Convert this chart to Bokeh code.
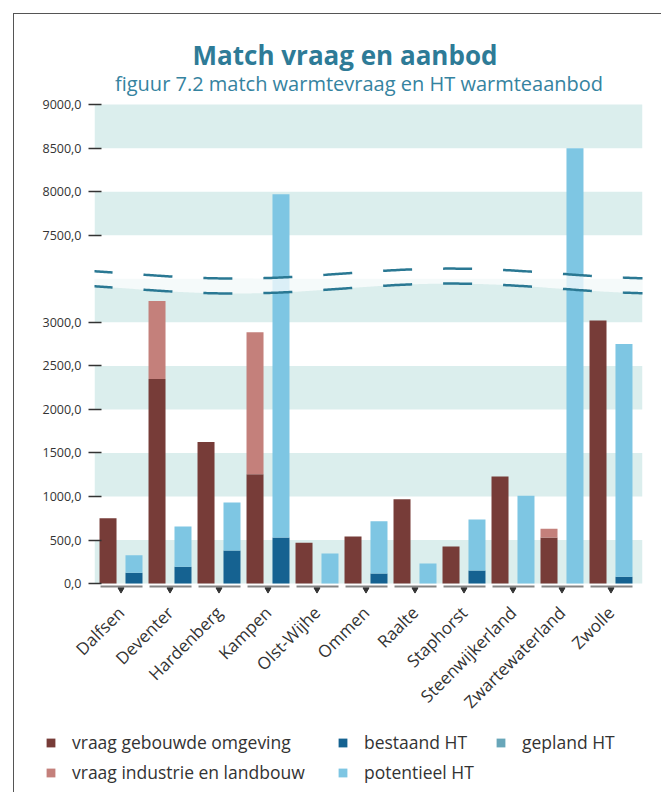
import numpy as np
from bokeh.plotting import figure
from bokeh.layouts import column, row
from bokeh.models import (ColumnDataSource, FixedTicker, BoxAnnotation, Label,
                          Legend, LegendItem, Range1d)
from bokeh.embed import file_html
from bokeh.resources import INLINE

# ---------------- data ----------------
gemeenten = ["Dalfsen", "Deventer", "Hardenberg", "Kampen", "Olst-Wijhe", "Ommen",
             "Raalte", "Staphorst", "Steenwijkerland", "Zwartewaterland", "Zwolle"]
vraag_gebouwde = [750, 2350, 1625, 1255, 470, 540, 970, 425, 1230, 530, 3020]
vraag_industrie = [0, 895, 0, 1630, 0, 0, 0, 0, 0, 100, 0]
bestaand_ht = [125, 195, 380, 530, 0, 115, 0, 150, 0, 0, 80]
gepland_ht = [0, 0, 0, 0, 0, 0, 0, 0, 0, 0, 0]
potentieel_ht = [200, 460, 550, 7440, 345, 600, 230, 585, 1010, 8500, 2670]

y_tick_values = [0, 500, 1000, 1500, 2000, 2500, 3000, 7500, 8000, 8500, 9000]
band_ranges = [(0, 500), (1000, 1500), (2000, 2500), (3000, 3500), (7500, 8000), (8500, 9000)]

# broken axis: values above the break are shifted down
BREAK_AT = 3500
BREAK_SHIFT = 3500


def brk(v):
    return v if v <= BREAK_AT else v - BREAK_SHIFT


# ---------------- colours / styles ----------------
C_GEB = "#773c38"
C_IND = "#c4807b"
C_BEST = "#156291"
C_GEPL = "#68a6b9"
C_POT = "#7ec6e3"
C_BAND = "#dbeeed"
C_TITLE = "#2e7b97"
C_TXT = "#333333"
FONT = "Open Sans"

# layout (pixels)
W = 647
H1 = 711
H2 = 67
PPU = 0.08709          # pixels per display unit
FRAME_H = 580
Y_BOTTOM = -125
Y_TOP = Y_BOTTOM + FRAME_H / PPU

n = len(gemeenten)
xs = np.arange(n)
BAR_W = 0.347
OFF = 0.265

p = figure(width=W, height=H1, output_backend="svg", toolbar_location=None,
           x_range=Range1d(-0.541, 10.643), y_range=Range1d(Y_BOTTOM, Y_TOP),
           min_border_left=80, min_border_right=19, min_border_top=0,
           min_border_bottom=H1 - FRAME_H, title=None)
p.outline_line_color = None
p.xgrid.visible = False
p.ygrid.visible = False
p.background_fill_color = "white"
p.border_fill_color = "white"

# bands
for lo, hi in band_ranges:
    p.add_layout(BoxAnnotation(bottom=brk(lo), top=brk(hi), fill_color=C_BAND,
                               fill_alpha=1, line_alpha=0, level="underlay"))


def stacked(series_list, xpos, colors):
    cum = np.zeros(n)
    rends = []
    for s, c in zip(series_list, colors):
        b = cum.copy()
        cum = cum + np.array(s, dtype=float)
        src = ColumnDataSource(dict(x=xpos, bottom=[brk(v) for v in b],
                                    top=[brk(v) for v in cum]))
        r = p.vbar(x="x", bottom="bottom", top="top", width=BAR_W, source=src,
                   fill_color=c, line_color=None)
        rends.append(r)
    return rends


stacked([vraag_gebouwde, vraag_industrie], xs - OFF, [C_GEB, C_IND])
stacked([bestaand_ht, gepland_ht, potentieel_ht], xs + OFF, [C_BEST, C_GEPL, C_POT])

# break mask and wavy dashed lines
wx = np.linspace(-0.6, 10.7, 300)
wave = np.cos(2 * np.pi * (wx - 2.337) / 8.78)
upper = 3560 - 57 * wave
lower = upper - 172
p.varea(x=wx, y1=lower, y2=upper, fill_color="white", fill_alpha=0.72)
for yy in (upper, lower):
    p.line(wx, yy, line_color="#2a7893", line_width=2.5, line_dash="29 31",
           line_dash_offset=8)

# group baselines and markers
p.segment(x0=xs - 0.418, x1=xs + 0.439, y0=[-34] * n, y1=[-34] * n,
          line_color="#858585", line_width=2)
p.scatter(x=xs, y=[-69] * n, marker="inverted_triangle", size=6,
          fill_color="#333333", line_color="#333333")

# axes
p.yaxis.ticker = FixedTicker(ticks=[brk(v) for v in y_tick_values])
p.yaxis.major_label_overrides = {brk(v): f"{v:.1f}".replace(".", ",") for v in y_tick_values}
p.yaxis.axis_line_color = None
p.yaxis.minor_tick_line_color = None
p.yaxis.major_tick_out = 6
p.yaxis.major_tick_in = 7
p.yaxis.major_tick_line_color = C_TXT
p.yaxis.major_tick_line_width = 1.5
p.yaxis.major_label_standoff = 7
p.yaxis.major_label_text_font = FONT
p.yaxis.major_label_text_font_size = "12.5px"
p.yaxis.major_label_text_color = C_TXT

p.xaxis.ticker = FixedTicker(ticks=list(range(n)))
p.xaxis.major_label_overrides = {i: g for i, g in enumerate(gemeenten)}
p.xaxis.major_label_orientation = np.pi / 4
p.xaxis.axis_line_color = None
p.xaxis.major_tick_line_color = None
p.xaxis.minor_tick_line_color = None
p.xaxis.major_label_standoff = 9
p.xaxis.major_label_text_font = FONT
p.xaxis.major_label_text_font_size = "17px"
p.xaxis.major_label_text_color = C_TXT

# titles (inside the extended frame)
p.add_layout(Label(x=250.5, y=539.7, x_units="screen", y_units="screen",
                   text="Match vraag en aanbod", text_font=FONT, text_font_size="26px",
                   text_font_style="bold", text_color=C_TITLE, text_align="center",
                   text_baseline="alphabetic"))
p.add_layout(Label(x=264.5, y=510.7, x_units="screen", y_units="screen",
                   text="figuur 7.2 match warmtevraag en HT warmteaanbod", text_font=FONT,
                   text_font_size="20px", text_color="#3583a0", text_align="center",
                   text_baseline="alphabetic"))

# ---------------- legend figure ----------------
p2 = figure(width=W, height=H2, output_backend="svg", toolbar_location=None,
            x_range=Range1d(0, 1), y_range=Range1d(0, 1), min_border=0,
            min_border_left=0, min_border_right=0, min_border_top=0, min_border_bottom=0,
            x_axis_location=None, y_axis_location=None, title=None)
p2.grid.visible = False
p2.outline_line_color = None
p2.border_fill_color = "white"

series_names = ["vraag gebouwde omgeving", "vraag industrie en landbouw",
                "bestaand HT", "potentieel HT", "gepland HT"]
series_colors = [C_GEB, C_IND, C_BEST, C_POT, C_GEPL]
swatch = {}
for name, c in zip(series_names, series_colors):
    # legend swatch only: a zero-height bar outside the (empty) view
    swatch[name] = p2.vbar(x=[-5], top=[0], width=0.1, fill_color=c, line_color=None)


def make_legend(names, loc):
    lg = Legend(items=[LegendItem(label=nm, renderers=[swatch[nm]]) for nm in names],
                location=loc, orientation="vertical",
                glyph_width=11, glyph_height=11, label_standoff=16, spacing=6,
                label_height=20, padding=0, margin=0,
                label_text_font=FONT, label_text_font_size="17.5px",
                label_text_color=C_TXT, background_fill_alpha=0,
                border_line_alpha=0)
    p2.add_layout(lg, "center")


make_legend(series_names[0:2], (31, 8))
make_legend(series_names[2:4], (323, 8))
make_legend(series_names[4:5], (481, 38))

layout = column(p, row(p2), spacing=0, margin=(13, 0, 0, 13),
                styles={"border-top": "1px solid #555555",
                        "border-left": "1px solid #555555"})

open("out.html", "w").write(file_html(layout, INLINE))
